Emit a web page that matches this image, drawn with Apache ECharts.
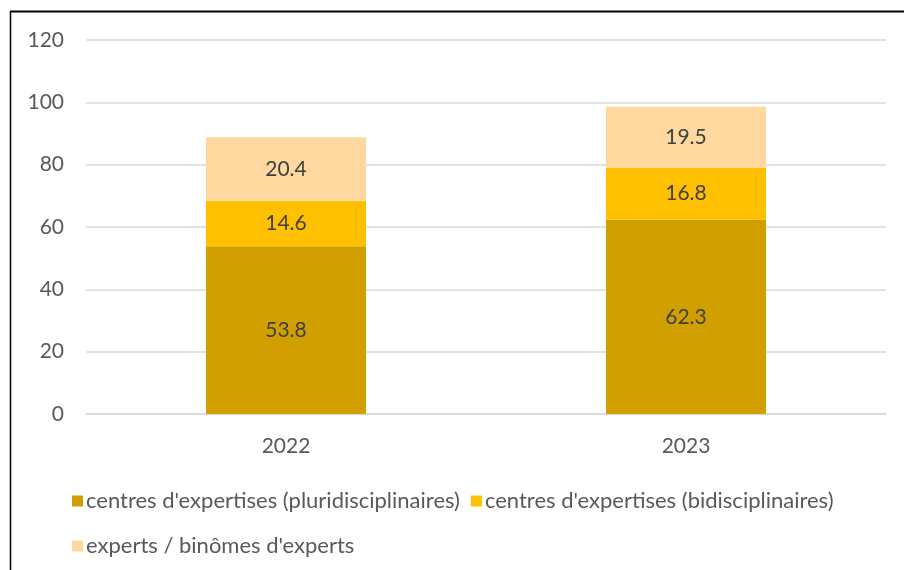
<!DOCTYPE html>
<html>
<head>
<meta charset="utf-8">
<script src="https://cdn.jsdelivr.net/npm/echarts@6/dist/echarts.min.js"></script>
<style>
  html, body { margin: 0; padding: 0; background: #fff; }
  #main { width: 904px; height: 570px; }
</style>
</head>
<body>
<div id="main"></div>
<script>
const years = ['2022', '2023'];
const pluri = [53.8, 62.3];
const bidi = [14.6, 16.8];
const experts = [20.4, 19.5];
const yTicks = [0, 20, 40, 60, 80, 100, 120];

const FONT = 'Lato, "Liberation Sans", sans-serif';
const FS = 21;
const chart = echarts.init(document.getElementById('main'));

const barLabel = { show: true, position: 'inside', color: '#404040', fontSize: FS, fontFamily: FONT, formatter: p => p.value.toFixed(1) };

chart.setOption({
    animation: false,
    textStyle: { fontFamily: FONT },
    graphic: [
        { type: 'line', shape: { x1: 10, y1: 11.5, x2: 904, y2: 11.5 }, style: { stroke: '#000', lineWidth: 2 } },
        { type: 'line', shape: { x1: 10.5, y1: 11, x2: 10.5, y2: 570 }, style: { stroke: '#000', lineWidth: 1.5 } }
    ],
    grid: { left: 86, right: 18, top: 40, bottom: 156 },
    legend: {
        left: 67, top: 479, width: 820,
        itemWidth: 11, itemHeight: 11, itemGap: 11,
        icon: 'rect',
        textStyle: { color: '#595959', fontSize: 22, fontFamily: FONT, lineHeight: 34, padding: [0, 0, 0, -2] }
    },
    xAxis: {
        type: 'category', data: years,
        axisLine: { lineStyle: { color: '#d9d9d9', width: 1.5 } },
        axisTick: { show: false },
        axisLabel: { color: '#595959', fontSize: FS, margin: 22 }
    },
    yAxis: {
        type: 'value', min: yTicks[0], max: yTicks[yTicks.length - 1], interval: 20,
        axisLine: { show: false }, axisTick: { show: false },
        splitLine: { lineStyle: { color: '#d9d9d9', width: 1.5 } },
        axisLabel: { color: '#595959', fontSize: FS, margin: 22 }
    },
    series: [
        { name: "centres d'expertises (pluridisciplinaires)", type: 'bar', stack: 'a', data: pluri, barWidth: '40%', itemStyle: { color: '#D29F00' }, label: barLabel },
        { name: "centres d'expertises (bidisciplinaires)", type: 'bar', stack: 'a', data: bidi, itemStyle: { color: '#FFC000' }, label: barLabel },
        { name: 'experts / binômes d\'experts', type: 'bar', stack: 'a', data: experts, itemStyle: { color: '#FFD89F' }, label: barLabel }
    ]
});
window.onresize = () => chart.resize();
</script>
</body>
</html>
